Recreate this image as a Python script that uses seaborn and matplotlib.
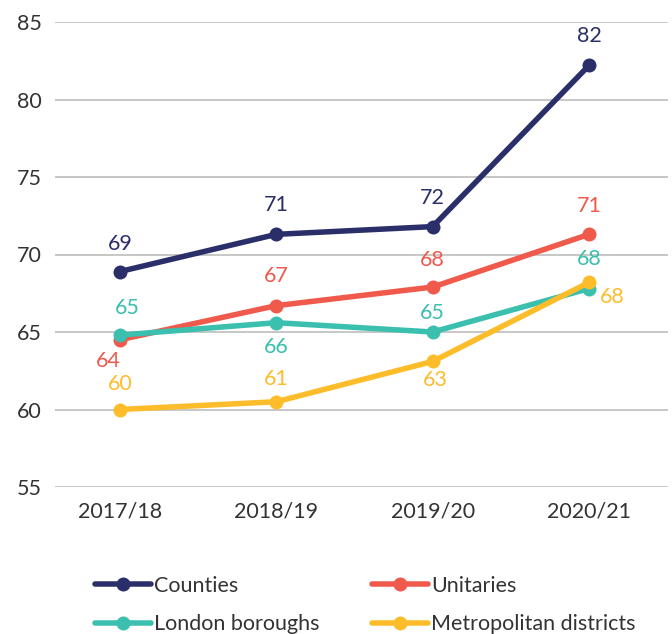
import matplotlib
matplotlib.use("Agg")
import matplotlib.pyplot as plt
from matplotlib.lines import Line2D
import seaborn as sns
import pandas as pd

years = ["2017/18", "2018/19", "2019/20", "2020/21"]
series_names = ["Counties", "Unitaries", "London boroughs", "Metropolitan districts"]
counties = [68.9, 71.3, 71.8, 82.2]
unitaries = [64.5, 66.7, 67.9, 71.3]
london = [64.8, 65.6, 65.0, 67.8]
metro = [60.0, 60.5, 63.1, 68.2]
labels_counties = ["69", "71", "72", "82"]
labels_unitaries = ["64", "67", "68", "71"]
labels_london = ["65", "66", "65", "68"]
labels_metro = ["60", "61", "63", "68"]

colors = {"Counties": "#2A2F6A", "Unitaries": "#F05A4C",
          "London boroughs": "#3BBFAE", "Metropolitan districts": "#FDBD2B"}

values = {"Counties": counties, "Unitaries": unitaries,
          "London boroughs": london, "Metropolitan districts": metro}
texts = {"Counties": labels_counties, "Unitaries": labels_unitaries,
         "London boroughs": labels_london, "Metropolitan districts": labels_metro}

rows = []
for name in series_names:
    for i, y in enumerate(years):
        rows.append({"year": y, "idx": i, "value": values[name][i], "series": name})
df = pd.DataFrame(rows)

sns.set_theme(style="white")
plt.rcParams["font.family"] = ["Lato", "DejaVu Sans"]

FS = 21.5
fig = plt.figure(figsize=(672 / 72, 634 / 72), dpi=72)
ax = fig.add_axes([55 / 672, (634 - 487) / 634, (668 - 55) / 672, (487 - 22) / 634])

sns.lineplot(data=df, x="idx", y="value", hue="series", hue_order=series_names,
             palette=colors, marker="o", markersize=14, markeredgewidth=0,
             linewidth=5.5, legend=False, ax=ax, zorder=3)

# label offsets (points) per series
offsets = {
    "Counties": [(0, 28), (0, 29), (0, 29), (0, 29)],
    "Unitaries": [(-12, -21), (0, 30), (0, 27), (0, 28)],
    "London boroughs": [(7, 27), (0, -24), (0, 19), (0, 30)],
    "Metropolitan districts": [(0, 25), (0, 23), (3, -19), (23, -15)],
}
for name in series_names:
    for i in range(len(years)):
        ax.annotate(texts[name][i], (i, values[name][i]), xytext=offsets[name][i],
                    textcoords="offset points", ha="center", va="center",
                    color=colors[name], fontsize=FS, zorder=4)

ax.set_xlim(-0.415, 3.505)
ax.set_ylim(55, 85)
ax.set_yticks([55, 60, 65, 70, 75, 80, 85])
ax.set_xticks(range(len(years)))
ax.set_xticklabels(years)
ax.set_xlabel("")
ax.set_ylabel("")
for s in ax.spines.values():
    s.set_visible(False)
ax.grid(axis="y", color="#c8c8c8", linewidth=2)
ax.grid(axis="x", visible=False)
ax.tick_params(axis="y", length=0, pad=13, labelsize=FS, labelcolor="#333333")
ax.tick_params(axis="x", length=0, pad=14, labelsize=FS, labelcolor="#333333")

handles = []
order = ["Counties", "London boroughs", "Unitaries", "Metropolitan districts"]
for name in order:
    handles.append(Line2D([0], [0], color=colors[name], linewidth=5.5,
                          marker="o", markersize=14, markeredgewidth=0))
fig.legend(handles, order, ncol=2, loc="upper left",
           bbox_to_anchor=(95 / 672, 1 - 576 / 634), frameon=False,
           fontsize=FS, handlelength=2.6, handletextpad=0.15,
           columnspacing=2.45, labelspacing=0.85, borderpad=0, borderaxespad=0,
           labelcolor="#333333")

fig.savefig("out.png", dpi=72)
